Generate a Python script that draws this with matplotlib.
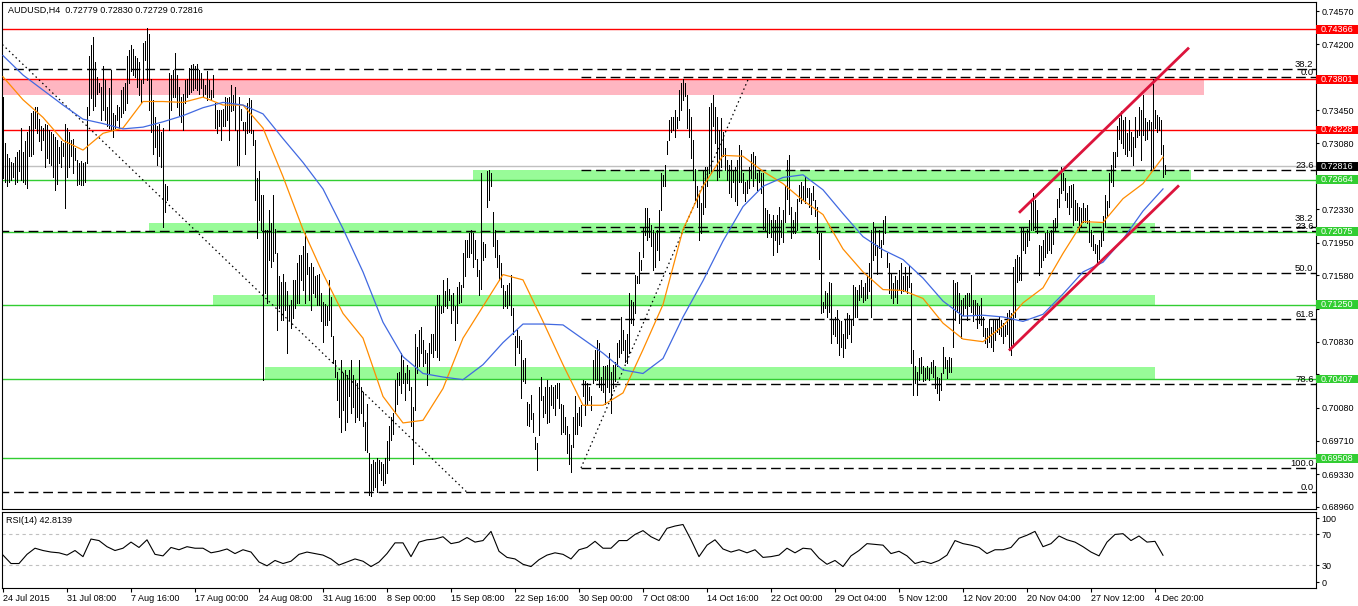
import numpy as np
import matplotlib.pyplot as plt
from matplotlib.patches import Rectangle
import matplotlib.transforms as mtransforms

plt.rcParams['font.family'] = ['Liberation Sans', 'DejaVu Sans']

W, H, DPI = 1358, 606, 100

# -----------------------------
# Data (prices in 1/10000)
# -----------------------------

bar_high = [
    # 24 Jul - 7 Aug
    7360, 7308, 7296, 7291, 7287, 7285, 7292, 7298, 7300, 7325,
    7298, 7310, 7321, 7327, 7342, 7344, 7349, 7349, 7335, 7327,
    7325, 7330, 7328, 7323, 7321, 7318, 7315, 7311, 7304, 7310,
    7308, 7330, 7325, 7321, 7311, 7313, 7302, 7289, 7285, 7288,
    7285, 7287, 7349, 7406, 7419, 7428, 7400, 7383, 7376, 7372,
    7395, 7379, 7349, 7370, 7391, 7342, 7340, 7351, 7349, 7368,
    7372, 7376, 7406, 7413, 7419, 7415, 7406, 7404, 7400, 7379,
    7421, 7423, 7438, 7432, 7380, 7357, 7338, 7327, 7330, 7321,
    7325, 7262, 7259, 7387, 7385, 7391, 7410, 7385, 7372, 7360,
    7364, 7379, 7381, 7393, 7396, 7397, 7395, 7398, 7391, 7387,
    7381, 7374, 7389, 7379, 7368, 7385, 7353, 7345, 7345, 7345,
    7347, 7360, 7359, 7360, 7374, 7362, 7372, 7323, 7360,
    # 21 Aug - 17 Sep
    7347, 7332, 7332, 7353, 7359, 7357, 7323, 7311, 7268, 7276,
    7249, 7249, 7210, 7210, 7232, 7217, 7249, 7211, 7183, 7157,
    7151, 7160, 7151, 7140, 7125, 7130, 7153, 7153, 7172, 7181,
    7181, 7191, 7206, 7183, 7168, 7172, 7168, 7157, 7159, 7160,
    7138, 7128, 7126, 7123, 7153, 7134, 7089, 7062, 7049, 7040,
    7062, 7047, 7051, 7045, 7051, 7062, 7045, 7040, 7036, 7062,
    7032, 7026, 6992, 7013, 6957, 6945, 6949, 6947, 6951, 6949,
    6947, 6945, 6951, 6970, 6987, 6998, 7002, 7040, 7047, 7049,
    7070, 7062, 7047, 7057, 7051, 7032, 7009, 7092, 7077, 7096,
    7100, 7085, 7074, 7070, 7081, 7092, 7092, 7123, 7136, 7136,
    7123, 7153, 7140, 7155, 7143, 7136, 7138, 7123, 7145, 7151,
    7147, 7183, 7198, 7198, 7206, 7210, 7206, 7198, 7177, 7164,
    # 17 Sep - 14 Oct
    7274, 7196, 7194, 7276, 7277, 7274, 7230, 7210, 7198, 7181,
    7172, 7147, 7140, 7147, 7149, 7159, 7121, 7089, 7096, 7089,
    7085, 7062, 7064, 7015, 7013, 7023, 7002, 6975, 6968, 7032,
    7043, 7021, 7032, 7040, 7032, 7034, 7032, 7034, 7036, 7036,
    7013, 7011, 6998, 6987, 6979, 6966, 6998, 7021, 7002, 7009,
    7011, 7040, 7038, 7036, 7032, 7021, 7062, 7074, 7085, 7081,
    7043, 7055, 7055, 7057, 7070, 7049, 7057, 7060, 7081, 7085,
    7111, 7096, 7085, 7092, 7138, 7130, 7128, 7159, 7157, 7185,
    7176, 7213, 7234, 7234, 7223, 7215, 7210, 7206, 7210, 7232,
    7274, 7272, 7283, 7310, 7334, 7338, 7338, 7345, 7338, 7368,
    7376, 7381, 7376, 7362, 7347, 7338, 7311, 7279, 7259, 7251,
    7240, 7277, 7281, 7281, 7349, 7353, 7362, 7349, 7338, 7323,
    # 14 Oct - 10 Nov
    7336, 7321, 7302, 7289, 7283, 7289, 7277, 7281, 7289, 7306,
    7300, 7274, 7264, 7266, 7281, 7296, 7298, 7293, 7274, 7276,
    7274, 7274, 7234, 7232, 7228, 7221, 7227, 7221, 7227, 7236,
    7221, 7232, 7259, 7289, 7294, 7236, 7221, 7230, 7245, 7260,
    7264, 7259, 7270, 7257, 7257, 7251, 7259, 7243, 7236, 7206,
    7206, 7128, 7140, 7138, 7151, 7149, 7108, 7111, 7119, 7108,
    7106, 7092, 7108, 7115, 7113, 7108, 7147, 7145, 7142, 7147,
    7153, 7145, 7149, 7157, 7172, 7210, 7219, 7213, 7193, 7210,
    7198, 7221, 7225, 7183, 7172, 7160, 7149, 7157, 7153, 7164,
    7172, 7157, 7168, 7157, 7170, 7149, 7074, 7055, 7049, 7064,
    7066, 7055, 7053, 7055, 7053, 7060, 7062, 7055, 7043, 7042,
    7047, 7077, 7066, 7062, 7066, 7064, 7153, 7149, 7151, 7138,
    # 10 Nov - 7 Dec
    7130, 7132, 7136, 7138, 7138, 7159, 7130, 7130, 7127, 7123,
    7132, 7111, 7098, 7098, 7109, 7100, 7108, 7109, 7109, 7111,
    7108, 7104, 7102, 7115, 7119, 7115, 7168, 7177, 7181, 7179,
    7213, 7213, 7206, 7211, 7221, 7243, 7251, 7243, 7232, 7193,
    7191, 7198, 7206, 7210, 7206, 7210, 7221, 7223, 7245, 7257,
    7281, 7274, 7268, 7251, 7259, 7260, 7262, 7243, 7240, 7236,
    7234, 7240, 7234, 7238, 7221, 7210, 7204, 7194, 7193, 7198,
    7208, 7225, 7249, 7242, 7274, 7283, 7298, 7298, 7327, 7336,
    7344, 7334, 7338, 7319, 7334, 7321, 7315, 7338, 7323, 7349,
    7345, 7362, 7336, 7332, 7334, 7332, 7381, 7345, 7340, 7338,
    7334, 7306, 7283,
]

bar_low = [
    7268, 7264, 7259, 7264, 7266, 7270, 7262, 7264, 7276, 7266,
    7264, 7262, 7257, 7293, 7293, 7296, 7325, 7319, 7310, 7300,
    7311, 7281, 7291, 7285, 7283, 7270, 7255, 7262, 7285, 7281,
    7293, 7234, 7270, 7281, 7293, 7274, 7289, 7260, 7262, 7261,
    7260, 7264, 7285, 7340, 7359, 7345, 7350, 7364, 7366, 7334,
    7345, 7334, 7327, 7325, 7323, 7315, 7325, 7334, 7325, 7338,
    7342, 7345, 7353, 7376, 7389, 7385, 7383, 7372, 7362, 7353,
    7376, 7402, 7379, 7345, 7320, 7296, 7304, 7283, 7293, 7281,
    7213, 7230, 7244, 7323, 7345, 7360, 7360, 7349, 7340, 7332,
    7323, 7353, 7360, 7364, 7366, 7368, 7370, 7368, 7364, 7370,
    7360, 7364, 7357, 7360, 7357, 7360, 7325, 7319, 7327, 7311,
    7327, 7327, 7334, 7311, 7344, 7345, 7323, 7283, 7283,
    7334, 7323, 7296, 7319, 7321, 7319, 7306, 7243, 7200, 7221,
    7210, 7040, 7138, 7127, 7176, 7168, 7174, 7183, 7096, 7121,
    7108, 7108, 7119, 7070, 7108, 7098, 7110, 7121, 7127, 7127,
    7153, 7142, 7127, 7160, 7130, 7119, 7138, 7134, 7125, 7125,
    7106, 7083, 7102, 7102, 7108, 7089, 7059, 7043, 7017, 6998,
    6981, 7006, 6983, 6992, 7021, 7002, 7009, 6992, 6998, 6994,
    7002, 6987, 6960, 6958, 6909, 6908, 6915, 6919, 6913, 6934,
    6926, 6921, 6923, 6934, 6949, 6972, 6979, 7002, 7013, 7034,
    7025, 7036, 7017, 7036, 7028, 6987, 6945, 7006, 7047, 7055,
    7070, 7055, 7059, 7034, 7047, 7070, 7066, 7074, 7066, 7062,
    7115, 7117, 7123, 7121, 7130, 7104, 7119, 7085, 7104, 7127,
    7128, 7145, 7157, 7179, 7179, 7183, 7168, 7177, 7157, 7136,
    7143, 7176, 7179, 7236, 7243, 7259, 7191, 7179, 7168, 7153,
    7145, 7121, 7123, 7121, 7125, 7113, 7092, 7057, 7077, 7070,
    7019, 7038, 7036, 6989, 6987, 6996, 6981, 6962, 6938, 6977,
    7017, 6998, 7002, 6991, 6992, 7011, 7008, 7000, 7019, 7008,
    6979, 6981, 6979, 6957, 6945, 6936, 6964, 6979, 6979, 6989,
    6987, 7021, 7000, 7013, 7017, 7006, 7036, 7040, 7040, 7032,
    7028, 7026, 7013, 7032, 7026, 7002, 7030, 7038, 7055, 7066,
    7070, 7074, 7060, 7059, 7070, 7104, 7102, 7115, 7149, 7149,
    7164, 7179, 7204, 7198, 7202, 7191, 7164, 7168, 7187, 7176,
    7232, 7259, 7259, 7296, 7311, 7321, 7323, 7315, 7325, 7334,
    7345, 7357, 7361, 7325, 7315, 7291, 7266, 7243, 7236, 7198,
    7206, 7228, 7236, 7259, 7274, 7274, 7327, 7308, 7266, 7270,
    7281, 7293, 7277, 7266, 7251, 7247, 7264, 7242, 7238, 7264,
    7264, 7251, 7242, 7251, 7257, 7268, 7259, 7268, 7255, 7264,
    7251, 7211, 7210, 7202, 7206, 7202, 7181, 7198, 7185, 7194,
    7202, 7196, 7219, 7245, 7228, 7200, 7206, 7206, 7210, 7242,
    7240, 7243, 7240, 7247, 7236, 7228, 7243, 7225, 7206, 7177,
    7115, 7117, 7121, 7111, 7117, 7081, 7092, 7089, 7081, 7068,
    7077, 7066, 7076, 7087, 7092, 7083, 7102, 7111, 7111, 7130,
    7134, 7128, 7130, 7132, 7140, 7111, 7176, 7181, 7160, 7189,
    7179, 7194, 7206, 7168, 7138, 7132, 7127, 7134, 7127, 7142,
    7138, 7140, 7142, 7138, 7145, 7059, 7023, 7036, 7023, 7040,
    7047, 7038, 7040, 7042, 7040, 7047, 7043, 7030, 7025, 7017,
    7028, 7047, 7053, 7042, 7049, 7049, 7077, 7108, 7117, 7104,
    7087, 7113, 7121, 7108, 7123, 7117, 7106, 7113, 7098, 7104,
    7102, 7089, 7081, 7077, 7083, 7077, 7072, 7085, 7094, 7092,
    7089, 7081, 7089, 7092, 7074, 7068, 7077, 7111, 7151, 7153,
    7153, 7187, 7183, 7191, 7198, 7210, 7210, 7211, 7206, 7159,
    7168, 7176, 7179, 7183, 7187, 7183, 7194, 7210, 7213, 7236,
    7251, 7255, 7243, 7236, 7228, 7236, 7215, 7221, 7221, 7210,
    7213, 7219, 7219, 7217, 7196, 7191, 7187, 7183, 7172, 7177,
    7191, 7198, 7213, 7225, 7236, 7264, 7259, 7281, 7293, 7313,
    7308, 7302, 7296, 7293, 7300, 7293, 7283, 7304, 7315, 7317,
    7289, 7317, 7311, 7313, 7323, 7279, 7279, 7325, 7321, 7323,
    7296, 7270, 7273,
]

# moving averages, one value every 10 bars
ma_fast = [
    7383, 7357, 7337, 7311, 7300, 7319, 7325, 7355, 7355, 7354, 7360, 7351,
    7351, 7325, 7270, 7210, 7160, 7115, 7087, 7021, 6991, 6994, 7030, 7087,
    7123, 7159, 7153, 7106, 7057, 7011, 7011, 7025, 7074, 7125, 7210, 7259,
    7294, 7293, 7276, 7262, 7243, 7227, 7188, 7162, 7142, 7141, 7132, 7104,
    7086, 7083, 7101, 7127, 7144, 7183, 7219, 7218, 7245, 7262, 7292,
]
ma_slow = [
    7407, 7385, 7368, 7351, 7335, 7330, 7324, 7326, 7332, 7339, 7348, 7354,
    7351, 7341, 7313, 7286, 7256, 7211, 7162, 7105, 7066, 7047, 7043, 7040,
    7057, 7082, 7103, 7103, 7102, 7086, 7070, 7051, 7047, 7064, 7111, 7152,
    7197, 7236, 7259, 7269, 7272, 7255, 7228, 7202, 7187, 7176, 7155, 7129,
    7112, 7113, 7111, 7106, 7114, 7137, 7162, 7173, 7199, 7231, 7256,
]

# RSI(14), one value every 4 bars
rsi_values = [
    43, 32, 32, 44, 52, 49, 47, 46, 43, 49,
    41, 64, 62, 54, 49, 52, 60, 53, 63, 44,
    42, 53, 50, 54, 52, 52, 46, 48, 51, 45,
    50, 47, 34, 29, 36, 32, 35, 44, 47, 45,
    43, 38, 30, 34, 38, 35, 28, 34, 45, 59,
    59, 41, 60, 63, 64, 67, 58, 60, 66, 60,
    62, 74, 48, 40, 38, 31, 28, 37, 43, 46,
    44, 38, 50, 53, 61, 52, 52, 62, 62, 70,
    75, 67, 62, 78, 81, 83, 63, 41, 56, 63,
    51, 47, 50, 46, 50, 40, 41, 43, 52, 46,
    52, 51, 39, 31, 36, 28, 42, 49, 58, 57,
    56, 45, 48, 42, 32, 35, 32, 36, 43, 62,
    58, 56, 53, 45, 50, 50, 53, 65, 69, 74,
    54, 58, 68, 63, 60, 54, 47, 42, 60, 70,
    71, 62, 68, 60, 61, 42.8,
]

date_labels = [
    "24 Jul 2015", "31 Jul 08:00", "7 Aug 16:00", "17 Aug 00:00",
    "24 Aug 08:00", "31 Aug 16:00", "8 Sep 00:00", "15 Sep 08:00",
    "22 Sep 16:00", "30 Sep 00:00", "7 Oct 08:00", "14 Oct 16:00",
    "22 Oct 00:00", "29 Oct 04:00", "5 Nov 12:00", "12 Nov 20:00",
    "20 Nov 04:00", "27 Nov 12:00", "4 Dec 20:00",
]

price_ticks = [0.74570, 0.74200, 0.73825, 0.73450, 0.73080, 0.72705, 0.72330,
               0.71950, 0.71580, 0.71200, 0.70830, 0.70460, 0.70080, 0.69710,
               0.69330, 0.68960]
# tick labels that sit under a price tag
hidden_ticks = [0.73825, 0.72705, 0.71200, 0.70460]

red_levels = [0.74366, 0.73801, 0.73228]
green_levels = [0.72664, 0.72075, 0.71250, 0.70407, 0.69508]
last_price = 0.72816

# supply / demand zones: start bar, end bar, low, high
zone_start = [-0.5, 235, 73, 105, 131]
zone_end = [600.5, 594, 576, 576, 576]
zone_low = [0.73620, 0.72664, 0.72075, 0.71250, 0.70407]
zone_high = [0.73801, 0.72775, 0.72178, 0.71360, 0.70547]
zone_color = ["#FFB6C1", "#98FB98", "#98FB98", "#98FB98", "#98FB98"]

# fibonacci retracements
fib_a_bars = [289, 373]
fib_a_prices = [0.69400, 0.73824]
fib_a_levels = [0.0, 23.6, 38.2, 50.0, 61.8, 78.6, 100.0]
fib_b_bars = [-343, 232]
fib_b_prices = [0.81675, 0.69125]
fib_b_levels = [0.0, 23.6, 38.2]

# rising channel
chan_top_bars = [508, 593]
chan_top_prices = [0.7229, 0.7416]
chan_bot_bars = [503, 588]
chan_bot_prices = [0.7073, 0.7260]

# -----------------------------
# Figure
# -----------------------------

highs = np.array(bar_high) / 10000
lows = np.array(bar_low) / 10000
bars = np.arange(len(highs))

fig = plt.figure(figsize=(W / DPI, H / DPI), dpi=DPI)
ax = fig.add_axes([2 / W, 1 - 508.5 / H, 1313.5 / W, 506.5 / H])
rax = fig.add_axes([2 / W, 1 - 588 / H, 1313.5 / W, 76.5 / H])

xmax = 656.25
ax.set_xlim(-0.5, xmax)
ax.set_ylim(0.68941, 0.74677)
px = 0.0000883  # one pixel in price units

# zones
for x0, x1, lo, hi, c in zip(zone_start, zone_end, zone_low, zone_high, zone_color):
    ax.add_patch(Rectangle((x0, lo), x1 - x0, hi - lo, facecolor=c,
                           edgecolor="none", zorder=1))

# horizontal levels
for v in red_levels:
    ax.axhline(v, color="red", lw=1.0, zorder=2)
for v in green_levels:
    ax.axhline(v, color="#32CD32", lw=1.0, zorder=2)
ax.axhline(last_price, color="#C0C0C0", lw=1.0, zorder=2)

# fibonacci A (low -> high)
dash = (0, (7, 3.5))
fa_lo, fa_hi = fib_a_prices
for lvl in fib_a_levels:
    p = fa_hi - lvl / 100 * (fa_hi - fa_lo)
    ax.plot([fib_a_bars[0], xmax], [p, p], color="black", lw=1.0,
            linestyle=dash, zorder=2)
    # keep the 38.2 tag clear of the other fib's 23.6 tag
    lift = 5 * px if lvl == 38.2 else 0
    ax.text(0.9985, p + lift, f"{lvl:.1f}", transform=ax.get_yaxis_transform(),
            ha="right", va="bottom", fontsize=6.8, zorder=6)
ax.plot(fib_a_bars, fib_a_prices, color="black", lw=0.9,
        linestyle=(0, (1.2, 2.5)), zorder=2)

# fibonacci B (high -> low)
fb_hi, fb_lo = fib_b_prices
for lvl in fib_b_levels:
    p = fb_lo + lvl / 100 * (fb_hi - fb_lo)
    ax.plot([fib_b_bars[0], xmax], [p, p], color="black", lw=1.0,
            linestyle=dash, zorder=2)
    ax.text(0.9985, p, f"{lvl:.1f}", transform=ax.get_yaxis_transform(),
            ha="right", va="bottom", fontsize=6.8, zorder=6)
ax.plot(fib_b_bars, fib_b_prices, color="black", lw=0.9,
        linestyle=(0, (1.2, 2.5)), zorder=2)

# price bars
ax.vlines(bars, lows, highs, color="black", lw=0.5, antialiased=False, zorder=3)

# moving averages
ma_x = np.arange(len(ma_fast)) * 10
ax.plot(ma_x, np.array(ma_fast) / 10000, color="#FF8C00", lw=0.9, zorder=4)
ax.plot(ma_x, np.array(ma_slow) / 10000, color="#4169E1", lw=0.9, zorder=4)

# channel
ax.plot(chan_top_bars, chan_top_prices, color="#DC143C", lw=2.0,
        solid_capstyle="butt", zorder=5)
ax.plot(chan_bot_bars, chan_bot_prices, color="#DC143C", lw=2.0,
        solid_capstyle="butt", zorder=5)

# axis formatting
ax.yaxis.tick_right()
ax.set_yticks(price_ticks,
              ["" if v in hidden_ticks else f"{v:.5f}" for v in price_ticks])
ax.tick_params(axis="y", length=2.5, width=0.8, pad=2, labelsize=6.5,
               direction="out")
ax.set_xticks([])
for s in ax.spines.values():
    s.set_linewidth(0.8)

# price tags on the right scale
tag_trans = mtransforms.blended_transform_factory(ax.transAxes, ax.transData)
tags = [(v, "red") for v in red_levels] + [(last_price, "black")] + \
       [(v, "#32CD32") for v in green_levels]
for v, c in tags:
    ax.add_patch(Rectangle((1.0005, v - 5.5 * px), 0.032, 11 * px,
                           transform=tag_trans, facecolor=c, edgecolor="none",
                           clip_on=False, zorder=7))
    ax.text(1.0042, v, f"{v:.5f}", transform=tag_trans, color="white",
            ha="left", va="center", fontsize=6.5, clip_on=False, zorder=8)

ax.text(6 / 1313.5, 1 - 8.5 / 506.5,
        "AUDUSD,H4  0.72779 0.72830 0.72729 0.72816",
        transform=ax.transAxes, ha="left", va="center", fontsize=6.5)

# -----------------------------
# RSI panel
# -----------------------------

rax.set_xlim(-0.5, xmax)
rax.set_ylim(0, 100)
rax.axhline(70, color="#C0C0C0", lw=0.8, linestyle=(0, (3, 3)))
rax.axhline(30, color="#C0C0C0", lw=0.8, linestyle=(0, (3, 3)))
rsi_x = np.arange(len(rsi_values)) * 4
rax.plot(rsi_x, rsi_values, color="black", lw=0.8)

rax.yaxis.tick_right()
rax.set_yticks([91.5, 70, 30, 7.8], ["100", "70", "30", "0"])
rax.tick_params(axis="y", length=2.5, width=0.8, pad=2, labelsize=6.5)
rax.set_xticks(np.arange(len(date_labels)) * 32, date_labels)
rax.tick_params(axis="x", length=3, width=0.8, pad=1.5, labelsize=6.5)
for lab in rax.get_xticklabels():
    lab.set_horizontalalignment("left")
for s in rax.spines.values():
    s.set_linewidth(0.8)

rax.text(4 / 1313.5, 0.88, "RSI(14) 42.8139", transform=rax.transAxes,
         ha="left", va="center", fontsize=6.5)

fig.savefig("out.png", dpi=DPI)
